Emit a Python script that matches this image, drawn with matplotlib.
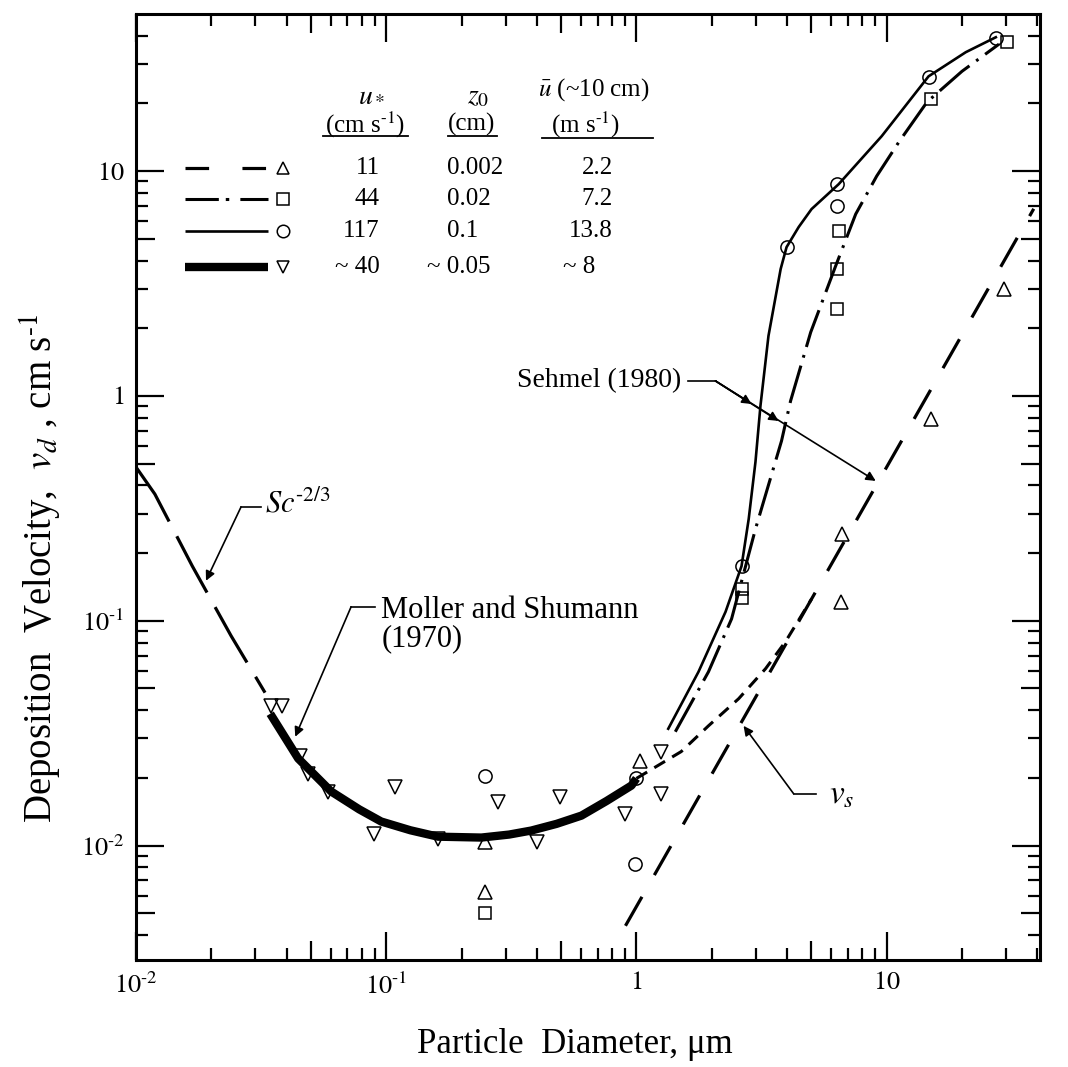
import numpy as np
import matplotlib
matplotlib.use('Agg')
import matplotlib.pyplot as plt
from matplotlib.ticker import FixedLocator, FixedFormatter, NullFormatter
from matplotlib.lines import Line2D

plt.rcParams['font.family'] = ['Liberation Serif', 'DejaVu Serif']
plt.rcParams['mathtext.fontset'] = 'stix'
plt.rcParams['lines.scale_dashes'] = False

# ---------------- data (particle diameter um, deposition velocity cm/s) ----------------
sc_d = [0.0100, 0.0119, 0.0168, 0.0240, 0.0328]
sc_v = [0.483, 0.366, 0.175, 0.0857, 0.0479]

moller_d = [0.0344, 0.0445, 0.0603, 0.0780, 0.0955, 0.125, 0.161, 0.240, 0.310, 0.380, 0.480, 0.603, 0.760, 0.955, 1.0]
moller_v = [0.0386, 0.0244, 0.0174, 0.0145, 0.0128, 0.0117, 0.01096, 0.01086, 0.0112, 0.01167, 0.0125, 0.0136, 0.0158, 0.0185, 0.0199]

u117_d = [1.34, 1.77, 2.27, 2.63, 2.81, 2.99, 3.13, 3.37, 3.77, 3.98, 4.45, 5.01, 6.43, 9.55, 14.7, 20.7, 27.3]
u117_v = [0.0331, 0.0593, 0.1096, 0.175, 0.284, 0.509, 0.903, 1.85, 3.67, 4.59, 5.64, 6.78, 8.75, 14.3, 26.4, 33.8, 39.4]

u44_d = [1.43, 1.94, 2.40, 2.99, 3.80, 4.13, 4.97, 6.25, 7.52, 9.12, 11.2, 14.5, 20.0, 28.1]
u44_v = [0.0321, 0.0593, 0.102, 0.256, 0.631, 0.95, 1.92, 3.78, 6.44, 9.5, 13.5, 20.3, 27.8, 36.7]

vs_short_d = [1.0, 1.51, 1.94, 2.56, 3.28, 3.94, 5.01]
vs_short_v = [0.0199, 0.0262, 0.0341, 0.045, 0.0612, 0.0807, 0.125]

vs_d = [0.904, 38.7]
vs_v = [0.0044, 6.8]

tri_up_d = [0.249, 0.249, 1.037, 6.55, 6.61, 15.0, 29.4]
tri_up_v = [0.01042, 0.00625, 0.0239, 0.1214, 0.2436, 0.79, 2.99]
square_d = [0.249, 2.63, 2.63, 6.43, 6.31, 6.31, 15.0, 30.2]
square_v = [0.00499, 0.139, 0.126, 5.41, 3.67, 2.44, 20.9, 37.4]
circle_d = [0.249, 0.99, 1.0, 2.63, 3.98, 6.31, 6.31, 14.7, 27.3]
circle_v = [0.0205, 0.0083, 0.0199, 0.175, 4.59, 8.75, 6.99, 26.2, 39.0]
tri_dn_d = [0.0347, 0.0384, 0.0453, 0.0488, 0.0586, 0.1086, 0.0895, 0.1614, 0.2805,
            0.4018, 0.4966, 0.904, 1.259, 1.259]
tri_dn_v = [0.0419, 0.0419, 0.0251, 0.0209, 0.0174, 0.0183, 0.0113, 0.01075, 0.0157,
            0.0104, 0.0165, 0.01387, 0.0262, 0.0170]

# table values
u_star = ['11', '44', '117', '~ 40']
z0 = ['0.002', '0.02', '0.1', '~ 0.05']
ubar = ['2.2', '7.2', '13.8', '~ 8']

major_ticks = [0.01, 0.1, 1, 10]
major_labels = [r'$10^{\text{-}2}$', r'$10^{\text{-}1}$', '$1$', '$10$']

# ---------------- styles ----------------
LONG_DASH = (0, (24, 18))
SC_DASH = (0, (46, 12))
SHORT_DASH = (0, (9, 6))
DASH_DOT = (0, (28, 6, 2, 6))
LEG_LONG = (0, (17, 24))
LEG_DD = (0, (24, 5, 2.5, 8))
mk = dict(mfc='none', mec='black', mew=1.1, ls='none', color='black', clip_on=False)

fig = plt.figure(figsize=(10.68, 10.67), dpi=100)
ax = fig.add_axes([0.1273, 0.1003, 0.8465, 0.8866])
ax.set_xscale('log')
ax.set_yscale('log')
ax.set_xlim(0.01, 41)
ax.set_ylim(0.0031, 50)

ax.plot(sc_d, sc_v, color='black', lw=2.3, ls=SC_DASH, dash_capstyle='butt')
ax.plot(moller_d, moller_v, color='black', lw=6.0, solid_capstyle='butt', solid_joinstyle='round')
ax.plot(u117_d, u117_v, color='black', lw=1.9, solid_joinstyle='round')
ax.plot(u44_d, u44_v, color='black', lw=2.2, ls=DASH_DOT)
ax.plot(vs_short_d, vs_short_v, color='black', lw=2.2, ls=SHORT_DASH)
ax.plot(vs_d, vs_v, color='black', lw=2.3, ls=LONG_DASH)

ax.plot(tri_up_d, tri_up_v, marker='^', ms=9.5, **mk)
ax.plot(square_d, square_v, marker='s', ms=8.5, **mk)
ax.plot(circle_d, circle_v, marker='o', ms=9.5, **mk)
ax.plot(tri_dn_d, tri_dn_v, marker='v', ms=9.5, **mk)

# ---------------- axes styling ----------------
for s in ax.spines.values():
    s.set_linewidth(2.2)

def minor_locs(lo, hi):
    out = []
    for e in range(-4, 3):
        for m in range(2, 10):
            v = m * 10.0 ** e
            if lo < v < hi:
                out.append(v)
    return out

xmin = minor_locs(0.01, 41)
ymin = minor_locs(0.0031, 50)
ax.xaxis.set_major_locator(FixedLocator(major_ticks))
ax.xaxis.set_major_formatter(FixedFormatter(major_labels))
ax.yaxis.set_major_locator(FixedLocator(major_ticks))
ax.yaxis.set_major_formatter(FixedFormatter(major_labels))
ax.xaxis.set_minor_locator(FixedLocator(xmin))
ax.yaxis.set_minor_locator(FixedLocator(ymin))
ax.xaxis.set_minor_formatter(NullFormatter())
ax.yaxis.set_minor_formatter(NullFormatter())
ax.tick_params(which='both', direction='in', top=True, right=True, width=1.6)
ax.tick_params(which='major', length=20, labelsize=19)
ax.tick_params(which='minor', length=8.5)
ax.tick_params(axis='x', which='major', pad=9)
ax.tick_params(axis='y', which='major', pad=8)

def medium_five(axis, locs):
    ticks = axis.get_minor_ticks(len(locs))
    for t, v in zip(ticks, locs):
        m = v / 10 ** np.floor(np.log10(v) + 1e-9)
        if abs(m - 5) < 1e-6:
            t.tick1line.set_markersize(14)
            t.tick2line.set_markersize(14)

medium_five(ax.xaxis, xmin)
medium_five(ax.yaxis, ymin)

ax.set_xlabel('Particle  Diameter, \u03bcm', fontsize=25)
ax.xaxis.set_label_coords(0.4856, -0.072)
ax.set_ylabel(r'Deposition  Velocity,  $v_d$ , cm s$^{\text{-}1}$', fontsize=28)
ax.yaxis.set_label_coords(-0.080, 0.414)

# ---------------- annotations ----------------
arr = dict(arrowstyle='-|>', lw=1.2, color='black', mutation_scale=14, shrinkA=0, shrinkB=0)

# Sc^-2/3
ax.text(0.0328, 0.331, r'$Sc^{\text{-}2/3}$', fontsize=22, ha='left', va='center')
ax.plot([0.0263, 0.0316], [0.321, 0.321], color='black', lw=1.2)
ax.annotate('', xy=(0.01905, 0.1507), xytext=(0.0263, 0.321), arrowprops=arr)

# Moller and Shumann
ax.text(0.0955, 0.1107, 'Moller and Shumann', fontsize=22, ha='left', va='center')
ax.text(0.0955, 0.0832, '(1970)', fontsize=22, ha='left', va='center')
ax.plot([0.0724, 0.0904], [0.1154, 0.1154], color='black', lw=1.2)
ax.annotate('', xy=(0.0433, 0.0305), xytext=(0.0724, 0.1154), arrowprops=arr)

# Sehmel (1980)
ax.text(1.51, 1.166, 'Sehmel (1980)', fontsize=20, ha='right', va='center')
ax.plot([1.61, 2.07], [1.166, 1.166], color='black', lw=1.2)
for tip in [(2.884, 0.921), (3.70, 0.774), (9.04, 0.419)]:
    ax.annotate('', xy=tip, xytext=(2.07, 1.166), arrowprops=arr)

# v_s
ax.text(5.86, 0.01668, '$v_s$', fontsize=24, ha='left', va='center')
ax.plot([4.25, 5.2], [0.017, 0.017], color='black', lw=1.2)
ax.annotate('', xy=(2.68, 0.0341), xytext=(4.25, 0.017), arrowprops=arr)

# ---------------- legend table (axes fraction) ----------------
T = ax.transAxes
hfs = 18
ax.text(0.2611, 0.9144, '$u_*$', fontsize=20, ha='center', va='center', transform=T)
ax.text(0.2533, 0.8827, r'(cm s$^{\text{-}1}$)', fontsize=hfs, ha='center', va='center', transform=T)
ax.text(0.3783, 0.9123, '$z_0$', fontsize=20, ha='center', va='center', transform=T)
ax.text(0.3717, 0.8827, '(cm)', fontsize=hfs, ha='center', va='center', transform=T)
ax.text(0.5066, 0.9197, r'$\bar{u}$ (~10 cm)', fontsize=hfs, ha='center', va='center', transform=T)
ax.text(0.4978, 0.8827, r'(m s$^{\text{-}1}$)', fontsize=hfs, ha='center', va='center', transform=T)
for x0, x1, yy in [(0.2069, 0.3009, 0.8710), (0.3451, 0.3993, 0.8710), (0.4491, 0.5719, 0.8689)]:
    ax.add_line(Line2D([x0, x1], [yy, yy], color='black', lw=1.3, transform=T, clip_on=False))

row_y = [0.8372, 0.8044, 0.7706, 0.7326]
styles = [(LEG_LONG, 2.3, '^'), (LEG_DD, 2.2, 's'), ('-', 1.9, 'o'), ('-', 6.0, 'v')]
for yy, (ls, lw, m), a, b, c in zip(row_y, styles, u_star, z0, ubar):
    ax.add_line(Line2D([0.0542, 0.146], [yy, yy], color='black', lw=lw, ls=ls,
                       solid_capstyle='butt', dash_capstyle='butt', transform=T, clip_on=False))
    ax.add_line(Line2D([0.1626], [yy], marker=m, ms=9.0, mfc='none', mec='black', mew=1.1,
                       transform=T, clip_on=False))
    ax.text(0.2699, yy, a, fontsize=hfs, ha='right', va='center', transform=T)
    if a.startswith('~'):
        ax.text(0.3219, yy, b, fontsize=hfs, ha='left', va='center', transform=T)
        ax.text(0.5077, yy, c, fontsize=hfs, ha='right', va='center', transform=T)
    else:
        ax.text(0.344, yy, b, fontsize=hfs, ha='left', va='center', transform=T)
        ax.text(0.5277, yy, c, fontsize=hfs, ha='right', va='center', transform=T)

fig.savefig('out.png', dpi=100)
